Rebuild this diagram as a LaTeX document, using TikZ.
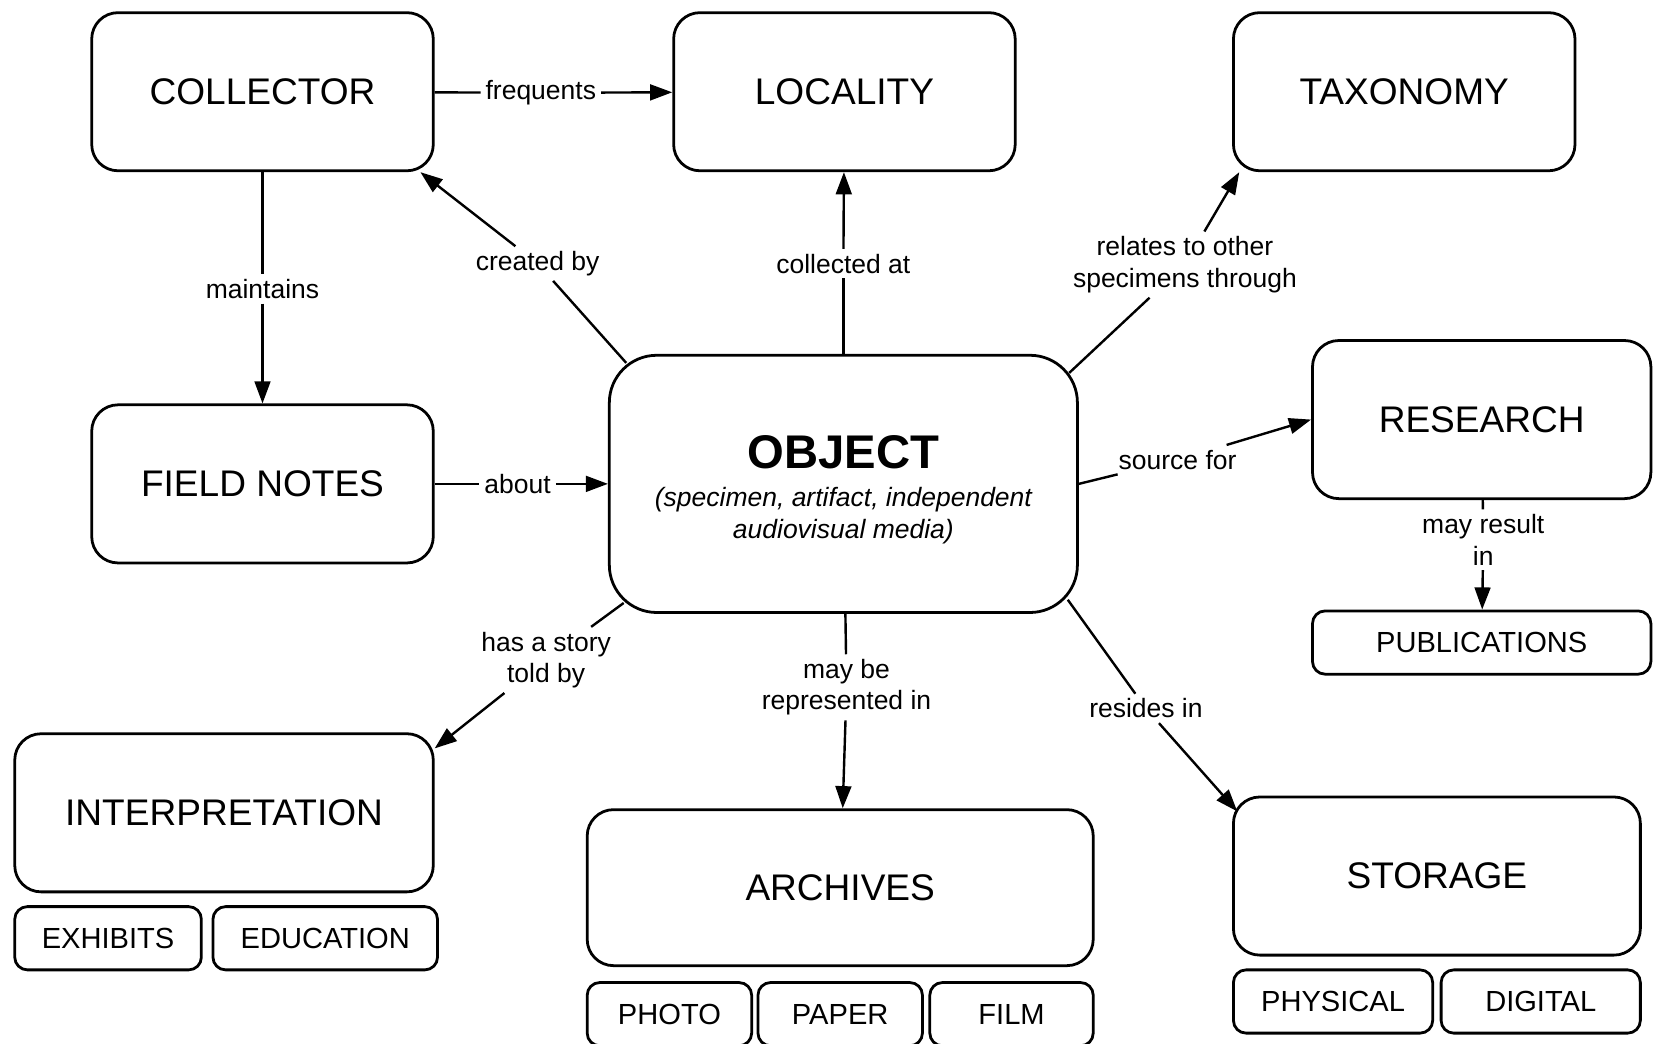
\documentclass[tikz,border=0pt]{standalone}
\usepackage{fontspec}
\setmainfont{Liberation Sans}
\usetikzlibrary{arrows.meta}

\tikzset{
  concept/.style={draw, line width=1.5pt, rounded corners=5mm, inner sep=0pt,
    minimum width=64.8mm, minimum height=30mm, font=\fontsize{20}{24}\selectfont},
  part/.style={draw, line width=1.5pt, rounded corners=2.4mm, inner sep=0pt,
    minimum height=12mm, font=\fontsize{15.7}{18}\selectfont},
  phrase/.style={inner sep=2.5pt, align=center, font=\fontsize{14.3}{17}\selectfont},
  conn/.style={line width=1.3pt},
  arrowconn/.style={conn, -{Triangle[length=4.2mm,width=3mm]}}
}

\begin{document}
\begin{tikzpicture}[x=0.2mm,y=-0.2mm]
	\useasboundingbox (0,0) rectangle (1568,990);

	% concepts
	\node[concept] (collector) at (249,87) {COLLECTOR};
	\node[concept] (locality) at (801,87) {LOCALITY};
	\node[concept] (taxonomy) at (1332,87) {TAXONOMY};
	\node[concept] (fieldnotes) at (249,459) {FIELD NOTES};
	\node[concept, minimum width=64.2mm] (research) at (1405.5,398) {RESEARCH};
	\node[concept, minimum width=79.4mm] (interpretation) at (212.5,771) {INTERPRETATION};
	\node[concept, minimum width=96mm, minimum height=29.6mm] (archives) at (797,842) {ARCHIVES};
	\node[concept, minimum width=77.2mm] (storage) at (1363,831) {STORAGE};

	\node[concept, rounded corners=9mm, minimum width=88.8mm, minimum height=48.8mm,
		align=center, font=\fontsize{14.3}{17}\selectfont] (object) at (800,459)
		{{\fontsize{25.5}{30}\selectfont\bfseries\rule{0pt}{24pt}OBJECT}\\[3.7pt]
		\itshape (specimen, artifact, independent\\\itshape audiovisual media)};

	% parts
	\node[part, minimum width=64.2mm] (publications) at (1405.5,609.5) {PUBLICATIONS};
	\node[part, minimum width=35.4mm] (exhibits) at (102.5,890) {EXHIBITS};
	\node[part, minimum width=42.6mm] (education) at (308.5,890) {EDUCATION};
	\node[part, minimum width=31.2mm] (photo) at (635,962) {PHOTO};
	\node[part, minimum width=31.2mm] (paper) at (797,962) {PAPER};
	\node[part, minimum width=31mm] (film) at (959.5,962) {FILM};
	\node[part, minimum width=37.8mm] (physical) at (1264.5,950) {PHYSICAL};
	\node[part, minimum width=37.8mm] (digital) at (1461.5,950) {DIGITAL};

	% linking phrases
	\node[phrase] (frequents) at (513,88) {frequents};
	\node[phrase] (maintains) at (249,274) {maintains};
	\node[phrase] (createdby) at (510,250) {created by};
	\node[phrase] (collectedat) at (800,250) {collected at};
	\node[phrase] (relates) at (1124,251) {relates to other\\specimens through};
	\node[phrase] (about) at (491,459) {about};
	\node[phrase] (sourcefor) at (1117,436) {source for};
	\node[phrase] (mayresult) at (1407,512) {may result\\in};
	\node[phrase] (hasastory) at (518,626) {has a story\\told by};
	\node[phrase] (maybe) at (803,652) {may be\\represented in};
	\node[phrase] (residesin) at (1087,672) {resides in};

	% connectors
	\draw[conn] (collector) -- (frequents);
	\draw[arrowconn] (frequents) -- (locality);
	\draw[conn] (collector) -- (maintains);
	\draw[arrowconn] (maintains) -- (fieldnotes);
	\draw[conn, shorten <=-2.3mm] (object.150) -- (createdby);
	\draw[arrowconn] (createdby) -- (collector.-27);
	\draw[conn] (object) -- (collectedat);
	\draw[arrowconn] (collectedat) -- (locality);
	\draw[conn, shorten <=-2.5mm] (object.27) -- (relates);
	\draw[arrowconn] (relates) -- (taxonomy.206);
	\draw[conn] (fieldnotes) -- (about);
	\draw[arrowconn] (about) -- (object);
	\draw[conn] (object.east) -- (sourcefor);
	\draw[arrowconn] (sourcefor) -- (research.west);
	\draw[conn] (research) -- (mayresult);
	\draw[arrowconn] (mayresult) -- (publications);
	\draw[conn, shorten <=-3.5mm] (object.209) -- (hasastory);
	\draw[arrowconn] (hasastory) -- (interpretation.17);
	\draw[conn] (object) -- (maybe);
	\draw[arrowconn] (maybe) -- (archives);
	\draw[conn, shorten <=-3.3mm] (object.-29) -- (residesin);
	\draw[arrowconn, shorten >=-1.5mm] (residesin) -- (storage.161);
\end{tikzpicture}
\end{document}
